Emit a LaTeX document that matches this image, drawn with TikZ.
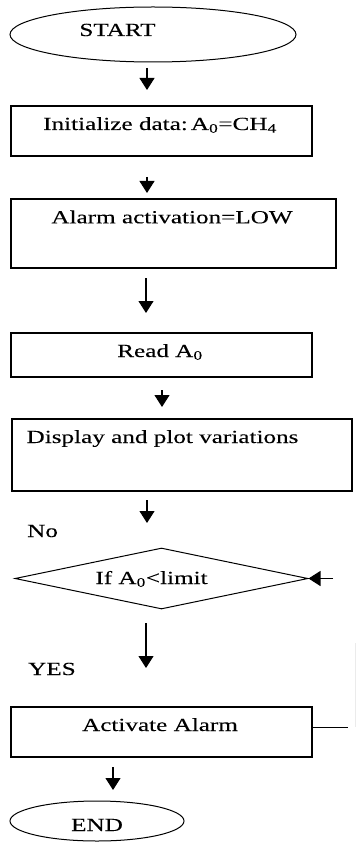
\documentclass[tikz,border=0pt]{standalone}
\usepackage{fontspec}
\setmainfont{Liberation Serif}[FakeStretch=1.36,FakeBold=0.12]
\usetikzlibrary{shapes.geometric,arrows.meta}
\tikzset{
  shapeline/.style={draw=black, line width=1.2pt, inner sep=0pt},
  boxshape/.style={shapeline, rectangle},
  ovalshape/.style={shapeline, ellipse, line width=1pt},
  decshape/.style={shapeline, diamond, line width=1pt},
  txt/.style={anchor=base, inner sep=0pt, font=\fontsize{18.5}{20}\selectfont},
  ltxt/.style={anchor=base west, inner sep=0pt, font=\fontsize{18.5}{20}\selectfont},
  arr/.style={draw=black, line width=1.1pt, -{Triangle[length=12pt,width=15pt]}},
  plainline/.style={draw=black, line width=1pt},
}
\begin{document}
\begin{tikzpicture}[x=1pt,y=-1pt]
\useasboundingbox (0,0) rectangle (357,842);
% shapes
\node[ovalshape, minimum width=286pt, minimum height=55pt] (start) at (153,34.5) {};
\node[txt] (starttxt) at (117.5,36) {START};
\node[boxshape, minimum width=301pt, minimum height=50pt] (init) at (161.5,131) {};
\node[txt] (inittxt) at (160,130) {Initialize data:\,A\textsubscript{0}=CH\textsubscript{4}};
\node[boxshape, minimum width=325pt, minimum height=69pt] (alarmlow) at (173.5,233.5) {};
\node[txt] (alarmlowtxt) at (172,223.3) {Alarm activation=LOW};
\node[boxshape, minimum width=301pt, minimum height=44pt] (read) at (161.5,355) {};
\node[txt] (readtxt) at (160,357) {Read A\textsubscript{0}};
\node[boxshape, minimum width=340pt, minimum height=72pt] (disp) at (182,455) {};
\node[txt] (disptxt) at (162.5,443) {Display and plot variations};
\node[ltxt] (no) at (27,537) {No};
\node[decshape, minimum width=293pt, minimum height=61pt] (dec) at (161.5,578.5) {};
\node[txt] (dectxt) at (151.5,584) {If A\textsubscript{0}<limit};
\node[ltxt] (yes) at (28,675) {YES};
\node[boxshape, minimum width=301pt, minimum height=50pt] (act) at (161.5,732) {};
\node[txt] (acttxt) at (160,731) {Activate Alarm};
\node[ovalshape, minimum width=174pt, minimum height=40pt] (stop) at (97,821) {};
\node[txt] (stoptxt) at (97,831) {END};
% arrow coordinates
\coordinate (a1s) at (147,68);  \coordinate (a1e) at (147,90);
\coordinate (a2s) at (147,177); \coordinate (a2e) at (147,193);
\coordinate (a3s) at (146,278); \coordinate (a3e) at (146,313);
\coordinate (a4s) at (162,390); \coordinate (a4e) at (162,407);
\coordinate (a5s) at (147,500); \coordinate (a5e) at (147,523);
\coordinate (a6s) at (146,623); \coordinate (a6e) at (146,668);
\coordinate (a7s) at (113,767); \coordinate (a7e) at (113,790);
\coordinate (loopin) at (333,578.5);
\coordinate (loopout) at (348,727);
\coordinate (looptop) at (355,643);
\coordinate (loopbot) at (355,727);
\draw[arr] (a1s) -- (a1e);
\draw[arr] (a2s) -- (a2e);
\draw[arr] (a3s) -- (a3e);
\draw[arr] (a4s) -- (a4e);
\draw[arr] (a5s) -- (a5e);
\draw[arr] (a6s) -- (a6e);
\draw[arr] (a7s) -- (a7e);
\draw[arr] (loopin) -- (dec.east);
\draw[plainline] (act.east |- loopout) -- (loopout);
\draw[draw=black!8, line width=0.8pt] (looptop) -- (loopbot);
\end{tikzpicture}
\end{document}
